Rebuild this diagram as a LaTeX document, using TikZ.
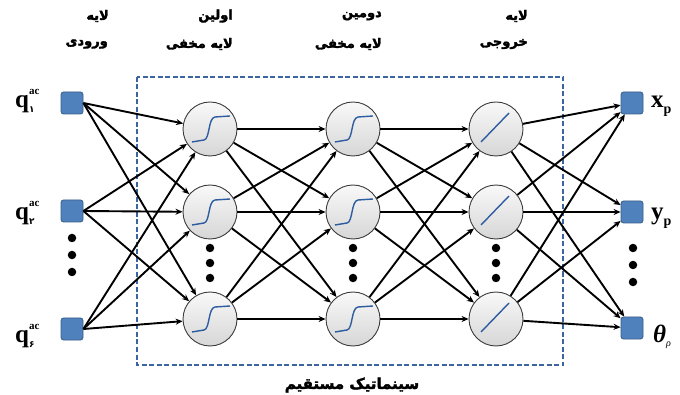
\documentclass[tikz,border=0pt]{standalone}
\usepackage{fontspec}
\setmainfont{Liberation Serif}
\newfontfamily\fafont[Script=Arabic,FakeBold=2.5]{DejaVu Sans Bold}
\newfontfamily\fadigit[Script=Arabic]{DejaVu Sans Bold}
\TeXXeTstate=1
\usetikzlibrary{arrows.meta}
\definecolor{sqblue}{RGB}{79,129,189}
\definecolor{sqedge}{RGB}{56,93,138}
\definecolor{boxblue}{RGB}{60,100,160}
\definecolor{curveblue}{RGB}{46,92,160}
\definecolor{circedge}{RGB}{60,60,60}
\newcommand{\qlab}[1]{\textbf{q}\rlap{\raisebox{13pt}{\fontsize{11}{11}\selectfont\textbf{ac}}}\raisebox{-5pt}{\fadigit\fontsize{9}{9}\selectfont #1}}
\begin{document}
\begin{tikzpicture}[x=1pt,y=-1pt,
  sq/.style={draw=sqedge, fill=sqblue, rounded corners=2.5pt, minimum size=22pt, inner sep=0pt, line width=0.8pt},
  neuron/.style={circle, draw=circedge, line width=0.9pt, minimum size=54pt, inner sep=0pt, top color=gray!5, bottom color=gray!32},
  conn/.style={line width=1.9pt, -{Stealth[length=7pt,width=6pt]}},
  dotn/.style={circle, fill=black, inner sep=0pt, minimum size=8.5pt},
  fa/.style={font=\fafont\fontsize{13}{15}\selectfont, inner sep=0pt},
  lab/.style={font=\fontsize{25}{27}\selectfont, inner sep=0pt},
  curve/.style={draw=curveblue, line width=1.4pt},
  box/.style={draw=boxblue, line width=2pt, dash pattern=on 5pt off 2.5pt}]
\useasboundingbox (0,0) rectangle (680,395);

% dashed frame
\draw[box] (137,77) rectangle (563,365);

% inputs
\node[sq] (i1) at (72,103) {};
\node[sq] (i2) at (72,211) {};
\node[sq] (i3) at (72,329) {};
% outputs
\node[sq] (o1) at (632,103) {};
\node[sq] (o2) at (632,212) {};
\node[sq] (o3) at (632,328) {};
% neurons
\foreach \c/\x in {a/210,b/353,c/496}{
  \node[neuron] (n\c1) at (\x,129) {};
  \node[neuron] (n\c2) at (\x,212) {};
  \node[neuron] (n\c3) at (\x,319) {};
}

% connections
\foreach \s in {i1,i2,i3}{\foreach \t in {na1,na2,na3}{\draw[conn] (\s.east) -- (\t);}}
\foreach \s in {na1,na2,na3}{\foreach \t in {nb1,nb2,nb3}{\draw[conn] (\s) -- (\t);}}
\foreach \s in {nb1,nb2,nb3}{\foreach \t in {nc1,nc2,nc3}{\draw[conn] (\s) -- (\t);}}
\foreach \s in {nc1,nc2,nc3}{\foreach \t in {o1,o2,o3}{\draw[conn] (\s) -- (\t);}}

% activation curves
\foreach \n in {na1,na2,na3,nb1,nb2,nb3}{
  \begin{scope}[shift={(\n.center)}]
    \draw[curve] (-18,13) -- (-6,11) .. controls (0,10) and (-2,-11) .. (5,-12) -- (20,-13);
  \end{scope}
}
\foreach \n in {nc1,nc2,nc3}{
  \begin{scope}[shift={(\n.center)}]
    \draw[curve] (-15,13) -- (13,-16);
  \end{scope}
}

% dots
\foreach \x/\a/\b/\c/\p in {72/238/255/272/l, 210/248/263/278/a, 353/248/263/278/b, 496/248/263/278/c, 633/248/265/282/r}{
  \node[dotn] (d\p1) at (\x,\a) {};
  \node[dotn] (d\p2) at (\x,\b) {};
  \node[dotn] (d\p3) at (\x,\c) {};
}

% input labels
\node[lab, anchor=base west] (lq1) at (15,108) {\qlab{۱}};
\node[lab, anchor=base west] (lq2) at (15,220) {\qlab{۲}};
\node[lab, anchor=base west] (lq3) at (15,342) {\qlab{۶}};
% output labels
\node[lab, anchor=base west] (lx) at (651,108) {\textbf{x}\raisebox{-6pt}{\fontsize{14}{14}\selectfont\textbf{p}}};
\node[lab, anchor=base west] (ly) at (651,220) {\textbf{y}\raisebox{-6pt}{\fontsize{14}{14}\selectfont\textbf{p}}};
\node[lab, anchor=base west] (lt) at (653,342) {\textbf{\textit{θ}}\raisebox{-4pt}{\fontsize{10}{10}\selectfont\textit{ρ}}};

% titles
\node[fa, anchor=east] (t1a) at (109,16) {\beginR لایه\endR};
\node[fa, anchor=east] (t1b) at (108,44) {\beginR ورودی\endR};
\node[fa, anchor=east] (t2a) at (233,16) {\beginR اولین\endR};
\node[fa, anchor=east] (t2b) at (233,44) {\beginR لایه مخفی\endR};
\node[fa, anchor=east] (t3a) at (382,16) {\beginR دومین\endR};
\node[fa, anchor=east] (t3b) at (382,44) {\beginR لایه مخفی\endR};
\node[fa, anchor=east] (t4a) at (528,16) {\beginR لایه\endR};
\node[fa, anchor=east] (t4b) at (528,44) {\beginR خروجی\endR};
\node[fa, font=\fafont\fontsize{15}{17}\selectfont] (bt) at (352,385) {\beginR سینماتیک مستقیم\endR};
\end{tikzpicture}
\end{document}
